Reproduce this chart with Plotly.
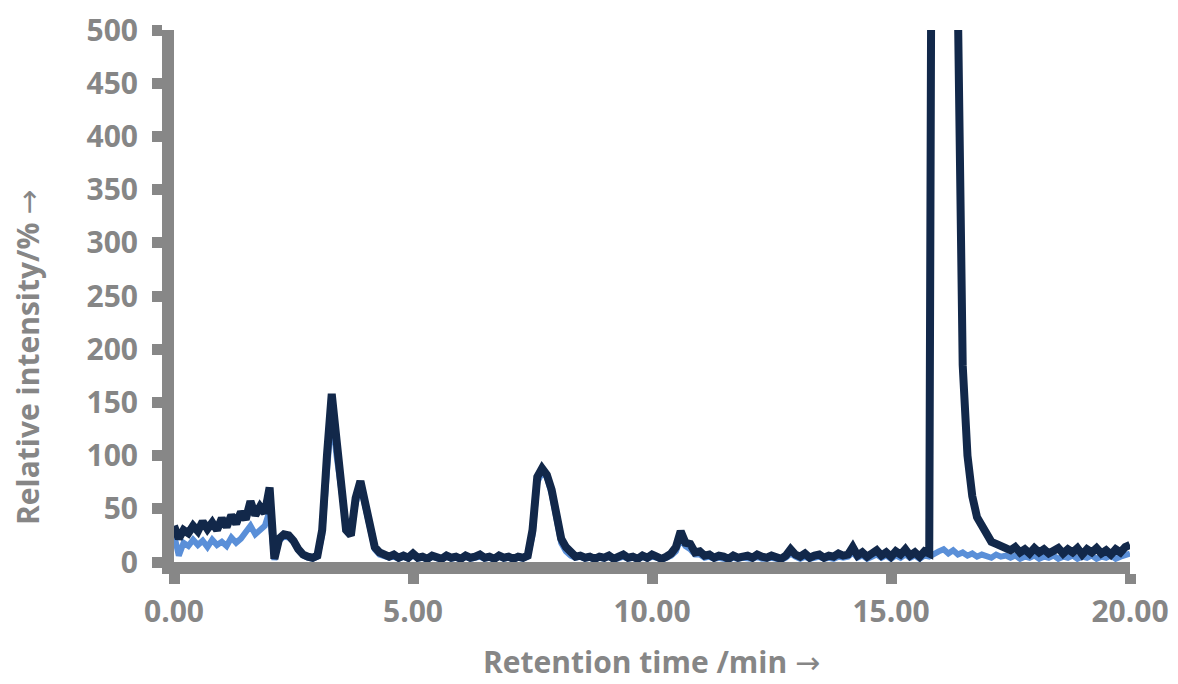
import numpy as np
import plotly.graph_objects as go

# Retention time grid (min), sampled every 0.1 min
time_min = np.round(np.arange(0.0, 20.0001, 0.1), 1)

# Relative intensity (%) of the sample trace (dark)
sample = [
    34, 22, 30, 27, 34, 29, 38, 31, 37, 30,      # 0.0-0.9
    41, 33, 44, 36, 47, 40, 57, 44, 52, 46,      # 1.0-1.9
    70, 3, 22, 26, 25, 20, 12, 7, 5, 4,          # 2.0-2.9
    6, 30, 100, 158, 115, 78, 30, 25, 60, 76,    # 3.0-3.9
    52, 30, 14, 9, 6, 5, 7, 4, 6, 4,             # 4.0-4.9
    8, 4, 5, 3, 6, 4, 3, 6, 4, 5,                # 5.0-5.9
    3, 6, 4, 5, 7, 4, 5, 3, 6, 4,                # 6.0-6.9
    5, 3, 5, 4, 6, 30, 80, 88, 82, 68,           # 7.0-7.9
    45, 22, 14, 8, 5, 6, 4, 5, 3, 5,             # 8.0-8.9
    4, 6, 3, 5, 7, 4, 5, 3, 6, 4,                # 9.0-9.9
    7, 5, 3, 5, 8, 14, 29, 18, 17, 9,            # 10.0-10.9
    10, 6, 7, 4, 6, 5, 3, 6, 4, 5,               # 11.0-11.9
    6, 4, 7, 5, 4, 6, 5, 3, 6, 12,               # 12.0-12.9
    7, 5, 8, 4, 6, 7, 4, 6, 5, 8,                # 13.0-13.9
    6, 7, 14, 6, 9, 5, 8, 11, 6, 9,              # 14.0-14.9
    5, 10, 7, 12, 6, 9, 5, 10, 8, 1500,          # 15.0-15.9
    2600, 2800, 2200, 1100, 520, 185, 100, 62, 42, 34,  # 16.0-16.9
    26, 19, 17, 14, 13, 11, 14, 9, 12, 8,        # 17.0-17.9
    13, 9, 12, 8, 11, 13, 8, 12, 9, 13,          # 18.0-18.9
    7, 12, 9, 13, 8, 11, 7, 12, 9, 14,           # 19.0-19.9
    16,                                          # 20.0
]

# Relative intensity (%) of the reference trace (light)
reference = [
    26, 6, 18, 15, 21, 16, 20, 14, 21, 16,       # 0.0-0.9
    19, 15, 23, 18, 22, 27, 34, 26, 30, 34,      # 1.0-1.9
    48, 2, 20, 24, 23, 19, 11, 6, 4, 3,          # 2.0-2.9
    5, 25, 85, 140, 100, 65, 35, 30, 55, 72,     # 3.0-3.9
    50, 28, 12, 7, 5, 4, 5, 3, 5, 3,             # 4.0-4.9
    6, 3, 4, 2, 5, 3, 2, 5, 3, 4,                # 5.0-5.9
    2, 5, 3, 4, 5, 3, 4, 2, 5, 3,                # 6.0-6.9
    4, 2, 4, 3, 5, 25, 75, 84, 80, 64,           # 7.0-7.9
    40, 18, 10, 6, 4, 5, 3, 4, 2, 4,             # 8.0-8.9
    3, 5, 2, 4, 5, 3, 4, 2, 5, 3,                # 9.0-9.9
    5, 4, 2, 4, 6, 10, 22, 15, 12, 7,            # 10.0-10.9
    7, 4, 5, 3, 4, 3, 2, 4, 3, 4,                # 11.0-11.9
    4, 3, 5, 3, 3, 4, 3, 2, 4, 8,                # 12.0-12.9
    5, 3, 5, 3, 4, 5, 3, 4, 3, 5,                # 13.0-13.9
    4, 5, 9, 4, 6, 3, 5, 7, 4, 6,                # 14.0-14.9
    3, 6, 4, 7, 4, 6, 3, 6, 5, 8,                # 15.0-15.9
    10, 12, 8, 11, 7, 9, 6, 8, 5, 7,             # 16.0-16.9
    6, 4, 7, 5, 6, 4, 6, 3, 5, 4,                # 17.0-17.9
    6, 3, 5, 4, 6, 3, 5, 4, 6, 3,                # 18.0-18.9
    5, 4, 6, 3, 5, 4, 6, 3, 5, 7,                # 19.0-19.9
    8,                                           # 20.0
]

x_ticks = [0, 5, 10, 15, 20]
y_ticks = [0, 50, 100, 150, 200, 250, 300, 350, 400, 450, 500]

AXIS_GREY = "#878787"
TEXT_GREY = "#868686"
FONT = "Open Sans"

tick_font = dict(family=FONT, size=30, color=TEXT_GREY, weight="bold")
title_font = dict(family=FONT, size=30, color=TEXT_GREY, weight="bold")
ARROW = '<span style="font-family:DejaVu Sans;font-weight:normal">\u2192</span>'

fig = go.Figure()
fig.add_trace(go.Scatter(
    x=time_min, y=reference, mode="lines",
    line=dict(color="#5a8fd8", width=6), showlegend=False,
))
fig.add_trace(go.Scatter(
    x=time_min, y=sample, mode="lines",
    line=dict(color="#12284a", width=8), showlegend=False,
))

axis_style = dict(
    showgrid=False, zeroline=False, automargin=False,
    showline=True, linecolor=AXIS_GREY, linewidth=12,
    ticks="outside", ticklen=10, tickwidth=11, tickcolor=AXIS_GREY,
    tickfont=tick_font, layer="below traces",
)

fig.update_layout(
    width=1178, height=684,
    margin=dict(l=174, r=48, t=30, b=122, autoexpand=False),
    paper_bgcolor="white", plot_bgcolor="white",
    font=dict(family=FONT, color=TEXT_GREY, size=30, weight="bold"),
    xaxis=dict(range=[0, 20], tickvals=x_ticks, tickformat=".2f",
               ticklabelstandoff=2, **axis_style),
    yaxis=dict(range=[0, 500], tickvals=y_ticks,
               ticklabelstandoff=8, **axis_style),
    annotations=[
        dict(text="Retention time /min " + ARROW, xref="paper", yref="paper",
             x=0.499, y=-0.1861, xanchor="center", yanchor="middle",
             showarrow=False, font=title_font),
        dict(text="Relative intensity/% " + ARROW, xref="paper", yref="paper",
             x=-0.1538, y=0.3853, xanchor="center", yanchor="middle",
             textangle=-90, showarrow=False, font=title_font),
    ],
)

fig.write_html("out.html")
